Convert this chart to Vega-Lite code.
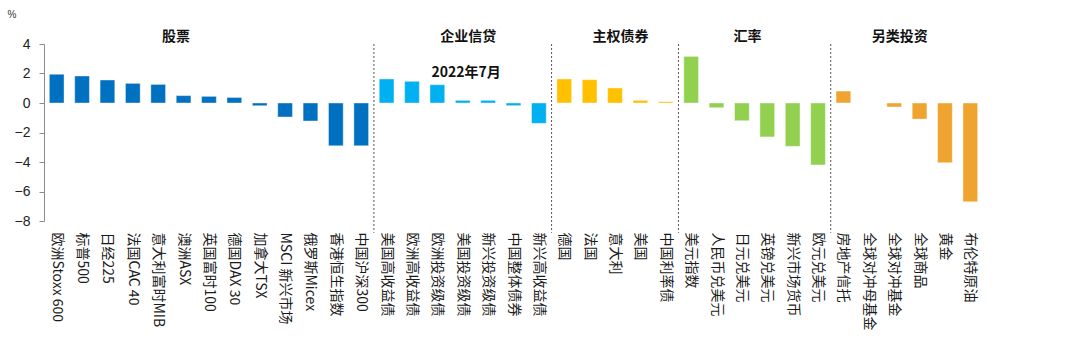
{
  "$schema": "https://vega.github.io/schema/vega-lite/v6.json",
  "width": 939,
  "height": 177,
  "autosize": {"type": "none"},
  "padding": {"left": 44, "top": 44, "right": 97, "bottom": 126},
  "background": "white",
  "config": {"view": {"stroke": null}, "font": "Noto Sans CJK SC"},
  "datasets": {
    "bars": [
      {"name": "欧洲Stoxx 600", "group": "股票", "value": 1.95},
      {"name": "标普500", "group": "股票", "value": 1.83},
      {"name": "日经225", "group": "股票", "value": 1.56},
      {"name": "法国CAC 40", "group": "股票", "value": 1.33},
      {"name": "意大利富时MIB", "group": "股票", "value": 1.26},
      {"name": "澳洲ASX", "group": "股票", "value": 0.5},
      {"name": "英国富时100", "group": "股票", "value": 0.45},
      {"name": "德国DAX 30", "group": "股票", "value": 0.38},
      {"name": "加拿大TSX", "group": "股票", "value": -0.18},
      {"name": "MSCI 新兴市场", "group": "股票", "value": -0.95},
      {"name": "俄罗斯Micex", "group": "股票", "value": -1.22},
      {"name": "香港恒生指数", "group": "股票", "value": -2.9},
      {"name": "中国沪深300", "group": "股票", "value": -2.9},
      {"name": "美国高收益债", "group": "企业信贷", "value": 1.63},
      {"name": "欧洲高收益债", "group": "企业信贷", "value": 1.47},
      {"name": "欧洲投资级债", "group": "企业信贷", "value": 1.24},
      {"name": "美国投资级债", "group": "企业信贷", "value": 0.18},
      {"name": "新兴投资级债", "group": "企业信贷", "value": 0.18},
      {"name": "中国整体债券", "group": "企业信贷", "value": -0.18},
      {"name": "新兴高收益债", "group": "企业信贷", "value": -1.38},
      {"name": "德国", "group": "主权债券", "value": 1.63},
      {"name": "法国", "group": "主权债券", "value": 1.58},
      {"name": "意大利", "group": "主权债券", "value": 1.02},
      {"name": "美国", "group": "主权债券", "value": 0.18},
      {"name": "中国利率债", "group": "主权债券", "value": 0.09},
      {"name": "美元指数", "group": "汇率", "value": 3.16},
      {"name": "人民币兑美元", "group": "汇率", "value": -0.32},
      {"name": "日元兑美元", "group": "汇率", "value": -1.2},
      {"name": "英镑兑美元", "group": "汇率", "value": -2.3},
      {"name": "新兴市场货币", "group": "汇率", "value": -2.94},
      {"name": "欧元兑美元", "group": "汇率", "value": -4.2},
      {"name": "房地产信托", "group": "另类投资", "value": 0.81},
      {"name": "全球对冲母基金", "group": "另类投资", "value": 0},
      {"name": "全球对冲基金", "group": "另类投资", "value": -0.27},
      {"name": "全球商品", "group": "另类投资", "value": -1.09},
      {"name": "黄金", "group": "另类投资", "value": -4.05},
      {"name": "布伦特原油", "group": "另类投资", "value": -6.7}
    ],
    "separators": [
      {"name": "美国高收益债"},
      {"name": "德国"},
      {"name": "美元指数"},
      {"name": "房地产信托"}
    ],
    "headersA": [
      {"name": "澳洲ASX", "title": "股票"}
    ],
    "headersB": [
      {"name": "美国投资级债", "title": "企业信贷"},
      {"name": "意大利", "title": "主权债券"},
      {"name": "日元兑美元", "title": "汇率"},
      {"name": "全球对冲基金", "title": "另类投资"}
    ],
    "subtitle": [
      {"name": "美国投资级债", "title": "2022年7月"}
    ]
  },
  "layer": [
    {
      "data": {"name": "bars"},
      "mark": {"type": "bar", "width": {"band": 0.58}, "stroke": "white", "strokeWidth": 0.8, "strokeOpacity": 0.5},
      "encoding": {
        "x": {
          "field": "name",
          "type": "nominal",
          "sort": null,
          "scale": {
            "paddingInner": 0,
            "paddingOuter": 0,
            "domain": ["欧洲Stoxx 600", "标普500", "日经225", "法国CAC 40", "意大利富时MIB", "澳洲ASX", "英国富时100", "德国DAX 30", "加拿大TSX", "MSCI 新兴市场", "俄罗斯Micex", "香港恒生指数", "中国沪深300", "美国高收益债", "欧洲高收益债", "欧洲投资级债", "美国投资级债", "新兴投资级债", "中国整体债券", "新兴高收益债", "德国", "法国", "意大利", "美国", "中国利率债", "美元指数", "人民币兑美元", "日元兑美元", "英镑兑美元", "新兴市场货币", "欧元兑美元", "房地产信托", "全球对冲母基金", "全球对冲基金", "全球商品", "黄金", "布伦特原油"]
          },
          "axis": {
            "title": null,
            "domain": false,
            "ticks": false,
            "labelAngle": 90,
            "labelAlign": "left",
            "labelBaseline": "middle",
            "labelPadding": 11,
            "labelFont": "Noto Sans CJK SC",
            "labelFontSize": 14,
            "labelColor": "#1a1a1a",
            "labelOverlap": false,
            "labelBound": false,
            "labelFlush": false,
            "labelLimit": 0
          }
        },
        "y": {
          "field": "value",
          "type": "quantitative",
          "scale": {"domain": [-8, 4], "nice": false, "zero": false},
          "axis": {
            "values": [-8, -6, -4, -2, 0, 2, 4],
            "tickCount": 7,
            "grid": false,
            "domainColor": "#8C8C8C",
            "tickColor": "#8C8C8C",
            "tickSize": 5,
            "labelPadding": 9,
            "labelOverlap": false,
            "labelFont": "Liberation Sans",
            "labelFontSize": 14,
            "labelColor": "#222222",
            "title": "%",
            "titleAngle": 0,
            "titleX": -37,
            "titleY": -30,
            "titleAlign": "left",
            "titleBaseline": "middle",
            "titleFont": "Liberation Sans",
            "titleFontSize": 10,
            "titleFontWeight": "normal",
            "titleColor": "#333333"
          }
        },
        "color": {
          "field": "group",
          "type": "nominal",
          "scale": {
            "domain": ["股票", "企业信贷", "主权债券", "汇率", "另类投资"],
            "range": ["#0070C0", "#00B0F0", "#FFC000", "#92D050", "#F0A430"]
          },
          "legend": null
        }
      }
    },
    {
      "mark": {"type": "rule", "color": "#D9D9D9", "strokeWidth": 1.2},
      "encoding": {"y": {"datum": 0, "type": "quantitative"}}
    },
    {
      "data": {"name": "separators"},
      "mark": {"type": "rule", "color": "#555555", "strokeWidth": 1, "strokeDash": [2, 2]},
      "encoding": {
        "x": {"field": "name", "type": "nominal", "bandPosition": 0},
        "y": {"datum": 4, "type": "quantitative"},
        "y2": {"datum": -8.8}
      }
    },
    {
      "data": {"name": "headersA"},
      "mark": {"type": "text", "font": "Noto Sans CJK SC", "fontSize": 14, "fontWeight": "bold", "color": "#111111", "baseline": "middle", "align": "center"},
      "encoding": {
        "x": {"field": "name", "type": "nominal", "bandPosition": 0.2},
        "y": {"datum": 4.47, "type": "quantitative"},
        "text": {"field": "title"}
      }
    },
    {
      "data": {"name": "headersB"},
      "mark": {"type": "text", "font": "Noto Sans CJK SC", "fontSize": 14, "fontWeight": "bold", "color": "#111111", "baseline": "middle", "align": "center"},
      "encoding": {
        "x": {"field": "name", "type": "nominal", "bandPosition": 0.72},
        "y": {"datum": 4.47, "type": "quantitative"},
        "text": {"field": "title"}
      }
    },
    {
      "data": {"name": "subtitle"},
      "mark": {"type": "text", "font": "Noto Sans CJK SC", "fontSize": 14, "fontWeight": "bold", "color": "#111111", "baseline": "middle", "align": "center"},
      "encoding": {
        "x": {"field": "name", "type": "nominal", "bandPosition": 0.63},
        "y": {"datum": 2.03, "type": "quantitative"},
        "text": {"field": "title"}
      }
    }
  ]
}
